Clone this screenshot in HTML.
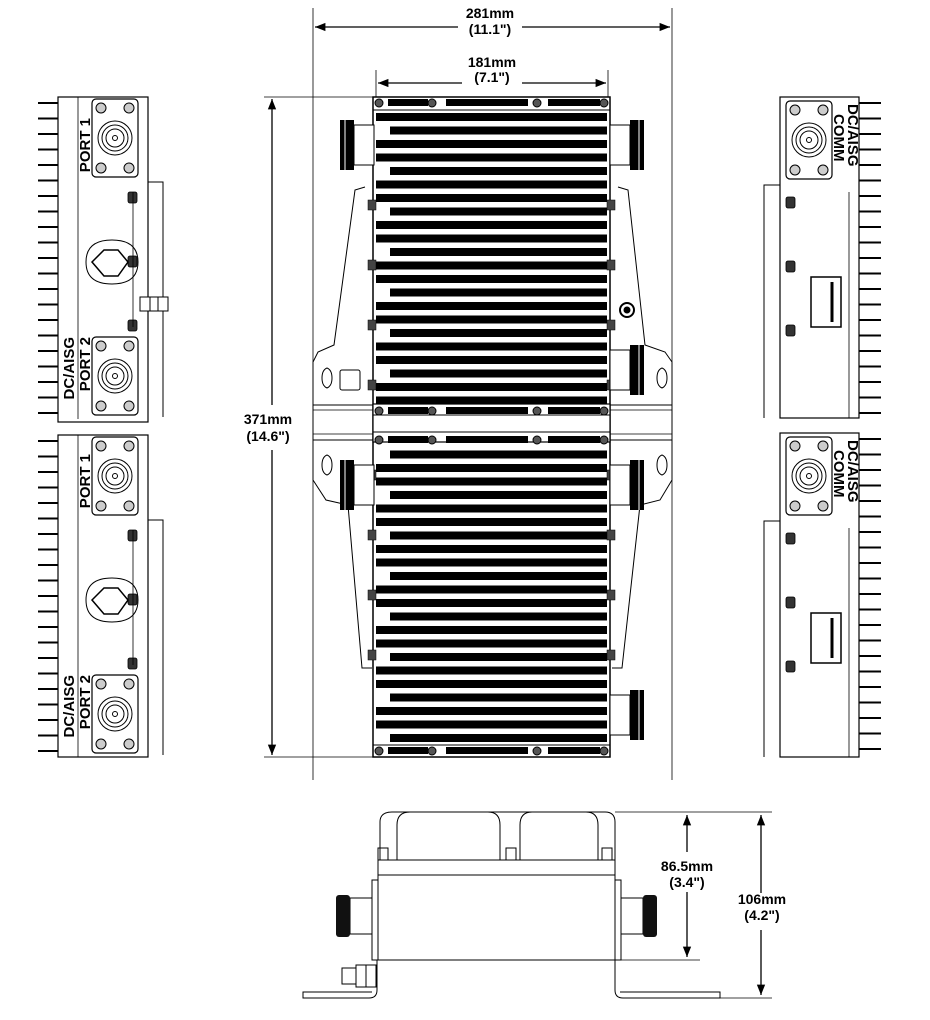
<!DOCTYPE html>
<html><head><meta charset="utf-8"><style>
html,body{margin:0;padding:0;background:#fff;width:930px;height:1020px;overflow:hidden}
svg{display:block}
text{font-family:"Liberation Sans",Arial,sans-serif;font-weight:bold;fill:#000}
</style></head><body>
<svg id="s" width="930" height="1020" viewBox="0 0 930 1020" xmlns="http://www.w3.org/2000/svg">
<defs>
<marker id="ah" viewBox="0 0 10 10" refX="10" refY="5" markerWidth="8" markerHeight="8" orient="auto-start-reverse"><path d="M0,1 L10,5 L0,9 z" fill="#000"/></marker>
</defs>
<g id="g" fill="none" stroke="#000" stroke-width="1"></g>
</svg>
<script>
var g=document.getElementById('g'),h='';
function L(x1,y1,x2,y2,w,c){h+='<line x1="'+x1+'" y1="'+y1+'" x2="'+x2+'" y2="'+y2+'" stroke="'+(c||'#000')+'" stroke-width="'+(w||1)+'"/>';}
function R(x,y,w,hh,f,sw,rx){h+='<rect x="'+x+'" y="'+y+'" width="'+w+'" height="'+hh+'" fill="'+(f||'none')+'" stroke="#000" stroke-width="'+(sw==null?1:sw)+'"'+(rx?' rx="'+rx+'"':'')+'/>';}
function W(x,y,w,hh){h+='<rect x="'+x+'" y="'+y+'" width="'+w+'" height="'+hh+'" fill="#fff" stroke="none"/>';}
function C(x,y,r,f,sw){h+='<circle cx="'+x+'" cy="'+y+'" r="'+r+'" fill="'+(f||'none')+'" stroke="#000" stroke-width="'+(sw||1)+'"/>';}
function P(d,f,sw){h+='<path d="'+d+'" fill="'+(f||'none')+'" stroke="#000" stroke-width="'+(sw||1)+'"/>';}
function T(x,y,s,sz,rot){h+='<text x="'+x+'" y="'+y+'" font-size="'+(sz||14)+'" text-anchor="middle" stroke="none"'+(rot?' transform="rotate('+rot+' '+x+' '+y+')"':'')+'>'+s+'</text>';}
function port(x,y){R(x,y,46,78,'#fff',1.2,4);[[x+9,y+9],[x+37,y+9],[x+9,y+69],[x+37,y+69]].forEach(function(p){C(p[0],p[1],5,'#ccc')});C(x+23,y+39,17);C(x+23,y+39,13);C(x+23,y+39,9);C(x+23,y+39,2.5);}
function finsL(x0,y0,y1){for(var y=y0;y<y1;y+=15.5){L(x0,y,x0+20,y,2);L(x0+20,y,x0+20,y+4);}}
function finsR(x0,y0,y1){for(var y=y0;y<y1;y+=15.5){L(x0,y,x0+22,y,2);}}
function leftMod(y0){
 R(58,y0,90,y0==97?325:322,'none',1.2);
 finsL(38,y0+6,y0+320);
 L(78,y0,78,y0+322,0.8);
 P('M148,'+(y0+85)+' L163,'+(y0+85)+' L163,'+(y0+320));
 for(var i=0;i<3;i++){R(128,y0+95+i*64,9,11,'#333',0.8,2);}
 L(133,y0+95,133,y0+230,0.8);
 P('M92,'+(y0+165)+' l12,-12 h14 l10,12 l-10,14 h-14z','none',1.5);
 P('M86,'+(y0+165)+' q0,-22 26,-22 q26,0 26,22 q0,22 -26,22 q-26,0 -26,-22z','none',1);
 port(92,y0+2);port(92,y0+240);
}
leftMod(97);leftMod(435);
h+='<text font-size="15" stroke="none" transform="translate(90,118) rotate(-90)" text-anchor="end">PORT 1</text>';
h+='<text font-size="15" stroke="none" transform="translate(90,337) rotate(-90)" text-anchor="end">PORT 2</text>';
h+='<text font-size="15" stroke="none" transform="translate(74,337) rotate(-90)" text-anchor="end">DC/AISG</text>';
h+='<text font-size="15" stroke="none" transform="translate(90,454) rotate(-90)" text-anchor="end">PORT 1</text>';
h+='<text font-size="15" stroke="none" transform="translate(90,675) rotate(-90)" text-anchor="end">PORT 2</text>';
h+='<text font-size="15" stroke="none" transform="translate(74,675) rotate(-90)" text-anchor="end">DC/AISG</text>';
R(140,297,28,14,'#fff',1);L(150,297,150,311);L(158,297,158,311);
function rightMod(y0,hh){
 R(780,y0,79,hh,'none',1.2);
 finsR(859,y0+6,y0+hh-2);
 L(849,y0+95,849,y0+hh,0.8);
 P('M780,'+(y0+88)+' L764,'+(y0+88)+' L764,'+(y0+hh));
 for(var i=0;i<3;i++){R(786,y0+100+i*64,9,11,'#333',0.8,2);}
 R(811,y0+180,30,50,'#fff',1.5);L(832,y0+185,832,y0+225,3);
 port(786,y0+4);
}
rightMod(97,321);rightMod(433,324);
h+='<text font-size="15" stroke="none" transform="translate(848,104) rotate(90)">DC/AISG</text>';
h+='<text font-size="15" stroke="none" transform="translate(834,114) rotate(90)">COMM</text>';
h+='<text font-size="15" stroke="none" transform="translate(848,440) rotate(90)">DC/AISG</text>';
h+='<text font-size="15" stroke="none" transform="translate(834,450) rotate(90)">COMM</text>';
L(313,8,313,780,0.8);L(672,8,672,780,0.8);
h+='<line x1="315" y1="27" x2="670" y2="27" stroke="#000" stroke-width="1.3" marker-start="url(#ah)" marker-end="url(#ah)"/>';
W(458,5,64,32);T(490,18,'281mm',14);T(490,34,'(11.1")',14);
L(376,70,376,97,0.8);L(608,70,608,97,0.8);
h+='<line x1="378" y1="83" x2="606" y2="83" stroke="#000" stroke-width="1.3" marker-start="url(#ah)" marker-end="url(#ah)"/>';
W(462,55,60,32);T(492,67,'181mm',14);T(492,82,'(7.1")',14);
L(264,97,375,97,0.8);L(264,757,375,757,0.8);
h+='<line x1="272" y1="99" x2="272" y2="405" stroke="#000" stroke-width="1.3" marker-start="url(#ah)"/>';
h+='<line x1="272" y1="450" x2="272" y2="755" stroke="#000" stroke-width="1.3" marker-end="url(#ah)"/>';
T(268,424,'371mm',14);T(268,441,'(14.6")',14);
P('M365,187 L355,190 L334,345 L318,352 L313,362 L313,480 L326,500 L348,505 L362,668 L372,668','#fff',1);
P('M618,187 L628,190 L645,345 L665,352 L672,362 L672,480 L660,500 L640,505 L622,668 L612,668','#fff',1);
P('M322,378 q0,-8 5,-10 q5,2 5,10 q0,8 -5,10 q-5,-2 -5,-10z');R(340,370,20,20,'none',1,2);
P('M657,378 q0,-8 5,-10 q5,2 5,10 q0,8 -5,10 q-5,-2 -5,-10z');
P('M322,465 q0,-8 5,-10 q5,2 5,10 q0,8 -5,10 q-5,-2 -5,-10z');
P('M657,465 q0,-8 5,-10 q5,2 5,10 q0,8 -5,10 q-5,-2 -5,-10z');
L(313,405,672,405,1);L(313,410,672,410,0.8);L(313,434,672,434,0.8);L(313,440,672,440,1);
R(373,97,237,660,'#fff',1.5);
L(373,110,610,110);L(373,745,610,745);
for(var y=113;y<742;y+=13.5){
 if(y>404&&y<442)continue;
 var x1=376,x2=607,th=8;
 var k=Math.round((y-113)/13.5)%6;
 if(k==1||k==4){x1=390;}
 R(x1,y,x2-x1,th,'#000',0);
}
R(373,404,237,38,'#fff',1.2);L(373,415,610,415);L(373,432,610,432);
function ends(y){R(388,y+2,40,7,'#000',0);R(446,y+2,82,7,'#000',0);R(548,y+2,52,7,'#000',0);[379,432,537,604].forEach(function(x){C(x,y+6,4,'#555')});}
ends(97);ends(745);ends(405);ends(434);
[200,260,320,380,470,530,590,650].forEach(function(y){R(368,y,8,10,'#444',0.5);R(607,y,8,10,'#444',0.5);});
C(627,310,7,'#fff',2);C(627,310,3,'#000');
function connL(x,y){R(x+14,y+5,20,40,'#fff',1);R(x,y,14,50,'#000',0);L(x+5,y,x+5,y+50,1,'#fff');}
function connR(x,y){R(x,y+5,20,40,'#fff',1);R(x+20,y,14,50,'#000',0);L(x+29,y,x+29,y+50,1,'#fff');}
connL(340,120);connR(610,120);connR(610,345);connL(340,460);connR(610,460);connR(610,690);
P('M380,860 L380,822 Q380,812 392,812 L605,812 Q615,812 615,822 L615,860');
P('M397,860 L397,825 Q397,812 410,812');P('M500,860 L500,825 Q500,812 488,812');
P('M520,860 L520,825 Q520,812 532,812');P('M598,860 L598,825 Q598,812 586,812');
R(378,860,237,100,'#fff',1);L(378,875,615,875);
R(378,848,10,12);R(506,848,10,12);R(602,848,10,12);
R(372,880,6,80,'#fff');R(615,880,6,80,'#fff');
R(350,898,22,36,'#fff');R(336,895,14,42,'#111',0,3);
R(621,898,22,36,'#fff');R(643,895,14,42,'#111',0,3);
P('M377,960 L377,990 Q377,998 369,998 L303,998 L303,992 L372,992');
P('M615,960 L615,990 Q615,998 623,998 L720,998 L720,992 L620,992');
R(342,968,14,16,'#fff');R(356,965,20,22,'#fff');L(366,965,366,987);
L(615,812,772,812,0.8);L(615,960,700,960,0.8);L(720,998,772,998,0.8);
h+='<line x1="687" y1="815" x2="687" y2="852" stroke="#000" stroke-width="1.3" marker-start="url(#ah)"/>';
h+='<line x1="687" y1="892" x2="687" y2="957" stroke="#000" stroke-width="1.3" marker-end="url(#ah)"/>';
T(687,871,'86.5mm',14);T(687,887,'(3.4")',14);
h+='<line x1="761" y1="815" x2="761" y2="893" stroke="#000" stroke-width="1.3" marker-start="url(#ah)"/>';
h+='<line x1="761" y1="930" x2="761" y2="995" stroke="#000" stroke-width="1.3" marker-end="url(#ah)"/>';
T(762,904,'106mm',14);T(762,920,'(4.2")',14);
g.innerHTML=h;
</script>
</body></html>
